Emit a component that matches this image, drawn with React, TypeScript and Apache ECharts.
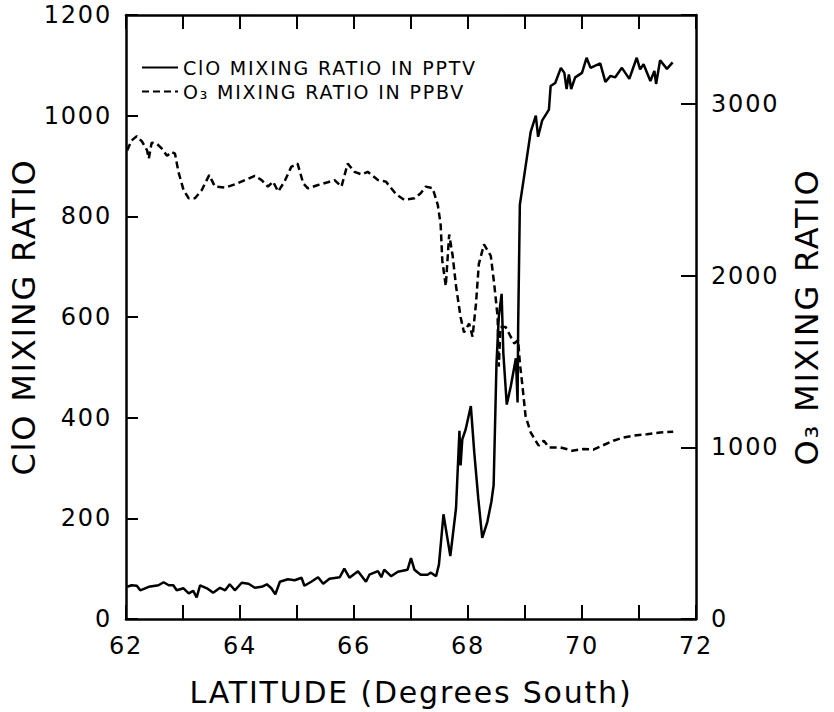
import React, { useEffect, useRef } from "react";
import * as echarts from "echarts";

// ClO mixing ratio (pptv) vs latitude (degrees south)
const cloLat = [
  62.02, 62.1, 62.19, 62.25, 62.4, 62.57, 62.66, 62.75, 62.83, 62.89, 63.01, 63.1, 63.18, 63.24, 63.3,
  63.42, 63.53, 63.65, 63.74, 63.82, 63.91, 64.03, 64.15, 64.26, 64.38, 64.47, 64.55, 64.62, 64.7, 64.84,
  64.96, 65.08, 65.13, 65.25, 65.37, 65.46, 65.57, 65.75, 65.83, 65.92, 66.07, 66.21, 66.27, 66.42, 66.48,
  66.53, 66.65, 66.77, 66.94, 67.0, 67.06, 67.17, 67.29, 67.35, 67.44, 67.49, 67.57, 67.69, 67.79, 67.85,
  67.87, 67.9, 67.96, 68.05, 68.11, 68.18, 68.25, 68.34, 68.41, 68.45, 68.5, 68.54, 68.59, 68.62, 68.68,
  68.75, 68.84, 68.87, 68.88, 68.91, 68.98, 69.1, 69.19, 69.23, 69.3, 69.42, 69.45, 69.53, 69.63, 69.69,
  69.73, 69.77, 69.81, 69.88, 70.0, 70.08, 70.15, 70.32, 70.41, 70.5, 70.58, 70.7, 70.83, 70.96, 71.02,
  71.08, 71.2, 71.27, 71.3, 71.37, 71.49, 71.59,
];
const cloPptv = [
  64, 67, 66, 57, 64, 67, 73, 67, 67, 57, 61, 51, 56, 43, 67,
  61, 52, 62, 57, 69, 57, 72, 70, 62, 64, 69, 61, 49, 74, 79,
  77, 82, 66, 74, 83, 70, 80, 83, 100, 82, 95, 74, 88, 95, 83,
  98, 85, 94, 98, 121, 98, 88, 88, 92, 85, 108, 208, 125, 220, 374,
  305, 357, 377, 423, 331, 240, 161, 193, 233, 266, 508, 600, 646, 528, 426,
  462, 518, 430, 580, 823, 876, 968, 1000, 958, 990, 1012, 1059, 1065, 1095, 1085,
  1053, 1082, 1053, 1076, 1085, 1115, 1095, 1104, 1067, 1079, 1076, 1095, 1073, 1115, 1092,
  1102, 1069, 1089, 1063, 1110, 1093, 1106,
];

// O3 mixing ratio (ppbv) vs latitude (degrees south)
const o3Lat = [
  62.02, 62.1, 62.19, 62.28, 62.37, 62.4, 62.45, 62.54, 62.63, 62.72, 62.8, 62.86, 62.92, 63.01, 63.1,
  63.21, 63.33, 63.46, 63.56, 63.74, 63.91, 64.09, 64.26, 64.38, 64.49, 64.58, 64.67, 64.78, 64.9, 65.01,
  65.11, 65.19, 65.37, 65.54, 65.66, 65.78, 65.89, 66.01, 66.13, 66.24, 66.42, 66.56, 66.74, 66.88, 67.06,
  67.17, 67.26, 67.38, 67.47, 67.52, 67.55, 67.61, 67.67, 67.73, 67.79, 67.87, 67.93, 68.02, 68.08, 68.14,
  68.19, 68.28, 68.4, 68.46, 68.52, 68.54, 68.57, 68.66, 68.72, 68.81, 68.88, 68.91, 68.95, 69.01, 69.1,
  69.24, 69.33, 69.42, 69.62, 69.83, 70.03, 70.2, 70.38, 70.55, 70.73, 70.9, 71.14, 71.37, 71.6,
];
const o3Ppbv = [
  2731, 2789, 2814, 2783, 2731, 2683, 2776, 2770, 2741, 2699, 2722, 2712, 2606, 2500, 2452,
  2452, 2500, 2587, 2520, 2514, 2533, 2558, 2583, 2558, 2520, 2549, 2491, 2549, 2635, 2654,
  2539, 2510, 2529, 2545, 2558, 2520, 2654, 2606, 2591, 2606, 2558, 2549, 2475, 2443, 2452,
  2481, 2520, 2510, 2414, 2300, 2087, 1940, 2241, 2120, 1940, 1760, 1670, 1721, 1645, 1837,
  2068, 2183, 2116, 1952, 1760, 1471, 1702, 1702, 1664, 1606, 1625, 1490, 1375, 1183, 1087,
  1010, 1039, 1000, 1000, 981, 991, 987, 1014, 1039, 1058, 1068, 1077, 1087, 1091,
];

const xMin = 62;
const xMax = 72;
const cloMax = 1200;
const o3Max = 3520;

const FONT = "DejaVu Sans";

export default function App() {
  const ref = useRef<HTMLDivElement>(null);

  useEffect(() => {
    if (!ref.current) return;
    const chart = echarts.init(ref.current, undefined, { renderer: "svg" });
    const axisLine = { show: true, onZero: false, lineStyle: { color: "#000", width: 2.5 } };
    const tick = (len: number) => ({ show: true, inside: true, length: len, lineStyle: { color: "#000", width: 2 } });
    const label = { color: "#000", fontSize: 24, fontFamily: FONT };
    chart.setOption({
      animation: false,
      backgroundColor: "#fff",
      grid: { left: 124, right: 138, top: 15, bottom: 87, containLabel: false },
      legend: {
        left: 136,
        top: 51,
        orient: "vertical",
        itemWidth: 36,
        itemHeight: 10,
        itemGap: 1,
        itemStyle: { color: "transparent", borderColor: "transparent", borderWidth: 0 },
        textStyle: { color: "#000", fontSize: 19, fontFamily: FONT, lineHeight: 23 },
        data: ["ClO MIXING RATIO IN PPTV", "O₃ MIXING RATIO IN PPBV"],
      },
      xAxis: [
        {
          type: "value",
          position: "bottom",
          min: xMin,
          max: xMax,
          interval: 1,
          axisLine,
          axisTick: tick(14),
          splitLine: { show: false },
          axisLabel: {
            ...label,
            margin: 15,
            formatter: (v: number) => (Math.round(v) % 2 === 0 ? String(Math.round(v)) : ""),
          },
          name: "LATITUDE (Degrees South)",
          nameLocation: "middle",
          nameGap: 58,
          nameTextStyle: { color: "#000", fontSize: 30, fontFamily: FONT },
        },
        {
          type: "value",
          position: "top",
          min: xMin,
          max: xMax,
          interval: 1,
          axisLine,
          axisTick: tick(14),
          splitLine: { show: false },
          axisLabel: { show: false },
        },
      ],
      yAxis: [
        {
          type: "value",
          position: "left",
          min: 0,
          max: cloMax,
          interval: 200,
          axisLine,
          axisTick: tick(12),
          splitLine: { show: false },
          axisLabel: { ...label, margin: 14, formatter: (v: number) => String(v) },
          name: "ClO MIXING RATIO",
          nameLocation: "middle",
          nameRotate: 90,
          nameGap: 79,
          nameTextStyle: { color: "#000", fontSize: 32, fontFamily: FONT },
        },
        {
          type: "value",
          position: "right",
          min: 0,
          max: o3Max,
          interval: 1000,
          axisLine,
          axisTick: tick(15),
          splitLine: { show: false },
          axisLabel: {
            ...label,
            margin: 15,
            formatter: (v: number) => (v % 1000 === 0 ? String(v) : ""),
          },
          name: "O₃ MIXING RATIO",
          nameLocation: "middle",
          nameRotate: 90,
          nameGap: 95,
          nameTextStyle: { color: "#000", fontSize: 32, fontFamily: FONT },
        },
      ],
      series: [
        {
          name: "ClO MIXING RATIO IN PPTV",
          type: "line",
          xAxisIndex: 0,
          yAxisIndex: 0,
          symbol: "none",
          showSymbol: false,
          lineStyle: { color: "#000", width: 2.5, type: "solid" },
          itemStyle: { color: "#000" },
          data: cloLat.map((x, i) => [x, cloPptv[i]]),
        },
        {
          name: "O₃ MIXING RATIO IN PPBV",
          type: "line",
          xAxisIndex: 0,
          yAxisIndex: 1,
          symbol: "none",
          showSymbol: false,
          lineStyle: { color: "#000", width: 2.5, type: [7, 4] },
          itemStyle: { color: "#000" },
          data: o3Lat.map((x, i) => [x, o3Ppbv[i]]),
        },
      ],
    });
    return () => chart.dispose();
  }, []);

  return (
    <>
      <style>{"#chart-root svg text { letter-spacing: 1.8px; }"}</style>
      <div
        id="chart-root"
        ref={ref}
        style={{ position: "fixed", left: 0, top: 0, width: 834, height: 712, background: "#fff" }}
      />
    </>
  );
}
